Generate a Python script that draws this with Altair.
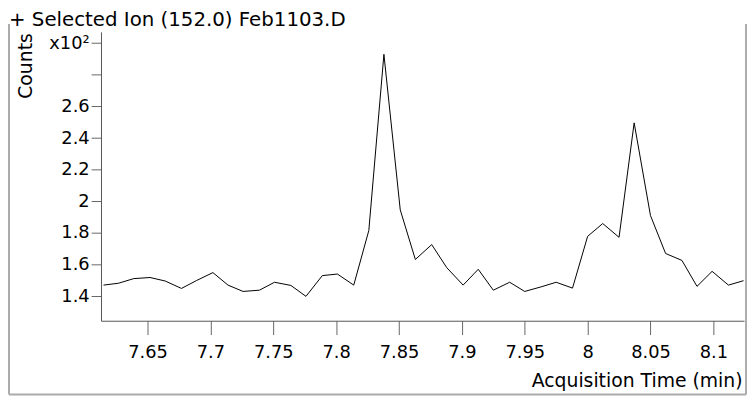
import altair as alt
import pandas as pd

# Acquisition time (min)
time_min = [7.615, 7.627, 7.639, 7.652, 7.664, 7.677, 7.689, 7.702, 7.714, 7.726,
            7.739, 7.751, 7.764, 7.776, 7.789, 7.801, 7.814, 7.826, 7.838, 7.851,
            7.863, 7.876, 7.888, 7.901, 7.913, 7.925, 7.938, 7.950, 7.963, 7.975,
            7.988, 8.000, 8.012, 8.025, 8.037, 8.050, 8.062, 8.075, 8.087, 8.099,
            8.112, 8.124]
# Counts (x10^2)
counts = [1.471, 1.483, 1.512, 1.519, 1.497, 1.450, 1.500, 1.550, 1.471, 1.431,
          1.439, 1.489, 1.469, 1.400, 1.531, 1.541, 1.471, 1.816, 2.929, 1.946,
          1.633, 1.727, 1.581, 1.471, 1.571, 1.439, 1.489, 1.431, 1.460, 1.489,
          1.452, 1.779, 1.860, 1.773, 2.496, 1.910, 1.671, 1.627, 1.463, 1.558,
          1.471, 1.499]

x_ticks = [7.65, 7.7, 7.75, 7.8, 7.85, 7.9, 7.95, 8.0, 8.05, 8.1]
y_ticks = [1.4, 1.6, 1.8, 2.0, 2.2, 2.4, 2.6, 2.8, 3.0]
title_text = "+ Selected Ion (152.0) Feb1103.D"
x_title = "Acquisition Time (min)"
y_title = "Counts"

FONT = "DejaVu Sans"
df = pd.DataFrame({"t": time_min, "c": counts})

line = alt.Chart(df).mark_line(color="black", strokeWidth=1).encode(
    x=alt.X("t:Q",
            scale=alt.Scale(domain=[7.613, 8.1244], nice=False, zero=False),
            axis=alt.Axis(values=x_ticks,
                          labelExpr="format(datum.value, '.2~f')",
                          grid=False, tickSize=14, labelPadding=9,
                          labelFont=FONT, labelFontSize=18, labelColor="black",
                          labelFlush=False, labelOverlap=False,
                          domainColor="#555555", tickColor="#666666",
                          title=x_title, titleFont=FONT, titleFontSize=19,
                          titleFontWeight="normal", titleColor="black",
                          titleX=648, titleY=66, titleAlign="right",
                          titleBaseline="alphabetic")),
    y=alt.Y("c:Q",
            scale=alt.Scale(domain=[1.246, 3.071], nice=False, zero=False),
            axis=alt.Axis(values=y_ticks,
                          labelExpr="abs(datum.value - 3) < 0.001 ? 'x10²' : (abs(datum.value - 2.8) < 0.001 ? '' : format(datum.value, '.1~f'))",
                          grid=False, tickSize=10, labelPadding=2,
                          labelFont=FONT, labelFontSize=18, labelColor="black",
                          labelFlush=False, labelOverlap=False,
                          domainColor="#555555", tickColor="#666666",
                          title=y_title, titleFont=FONT, titleFontSize=19,
                          titleFontWeight="normal", titleColor="black",
                          titleAngle=270, titleX=-70, titleY=34,
                          titleAlign="center", titleBaseline="alphabetic")),
)

one = alt.Data(values=[{}])
frame_color = "#ababab"
left = alt.Chart(one).mark_rule(color=frame_color, strokeWidth=2).encode(
    x=alt.value(-93), y=alt.value(-8), y2=alt.value(366.5))
right = alt.Chart(one).mark_rule(color=frame_color, strokeWidth=2).encode(
    x=alt.value(652), y=alt.value(-8), y2=alt.value(366.5))
bottom = alt.Chart(one).mark_rule(color=frame_color, strokeWidth=2).encode(
    x=alt.value(-93), x2=alt.value(652), y=alt.value(366.5))

title = alt.Chart(one).mark_text(
    text=title_text, align="left", baseline="alphabetic",
    font=FONT, fontSize=20, color="black").encode(
    x=alt.value(-93), y=alt.value(-6))

chart = alt.layer(line, left, right, bottom, title).properties(
    width=650, height=292,
    autosize=alt.AutoSizeParams(type="none"),
    padding={"left": 94, "top": 22, "right": 4, "bottom": 76},
    background="white",
).configure_view(stroke=None)

chart.save("out.html", embed_options={"renderer": "svg", "actions": False})
